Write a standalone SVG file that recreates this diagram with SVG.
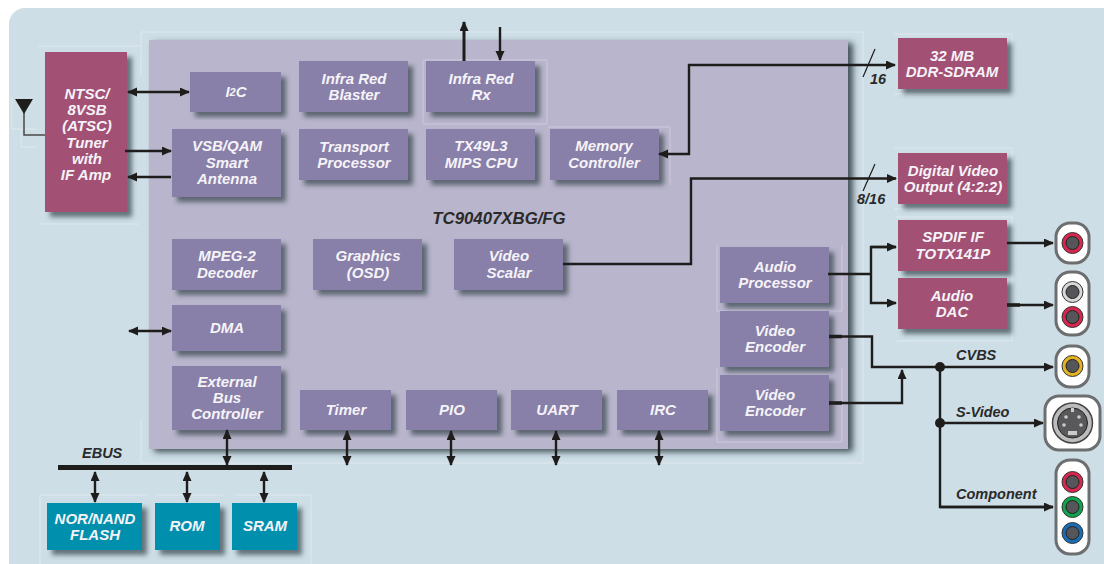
<svg xmlns="http://www.w3.org/2000/svg" width="1104" height="564" viewBox="0 0 1104 564">
<style>
text{font-family:"Liberation Sans",Arial,sans-serif;font-weight:bold;font-style:italic}
.n text{fill:#f6f3f8;font-size:15px;text-anchor:middle}
.p{fill:#8880a9;filter:url(#s)}
.m{fill:#a25175;filter:url(#s)}
.t{fill:#0090ae;filter:url(#s)}
.l{fill:#2a2a2a;font-size:14.5px}
.c path,.c line{fill:none;stroke:#1f1c1c;stroke-width:2.4}
.f{fill:none;stroke:#dfe9ee;stroke-width:1}
.g{fill:none;stroke:#cdc9dc;stroke-width:1}
.j{fill:#fff;stroke:#6d6e70;stroke-width:3}
.h{fill:#55565a;stroke:#222;stroke-width:1}
.r{stroke:#333;stroke-width:1}
</style>
<defs>
<filter id="s" x="-20%" y="-20%" width="140%" height="140%"><feDropShadow dx="5" dy="5" stdDeviation="2.5" flood-color="#34424a" flood-opacity=".7"/></filter>
<filter id="b" x="-5%" y="-5%" width="110%" height="110%"><feDropShadow dx="5" dy="3" stdDeviation="3" flood-color="#2c383f" flood-opacity=".85"/></filter>
<marker id="a" markerWidth="11" markerHeight="10" refX="9" refY="4.5" orient="auto-start-reverse" markerUnits="userSpaceOnUse"><path d="M0 0L10 4.5L0 9Z" fill="#1f1c1c"/></marker>
</defs>
<rect x="9" y="8" width="1120" height="580" rx="16" fill="#cddee6"/>
<g id="frames">
<path class="f" d="M141 75V32H863V463H141V420M38 46H139M38 224H139M12 97V129H36M21 129V147H36M894 34H1012V94H894M894 148H1012V209H894M895 217H1012V341H895M40 564V495H147M157 495H223M235 495H311V564"/>
</g>
<g id="chip"><rect x="149" y="40" width="699" height="409" fill="#b9b5cc" filter="url(#b)"/><path class="g" d="M423 60H547V124H423ZM548 127H670V185M717 245V311M842 245V311M717 368V442H842V368M717 311H842"/><text class="l" x="499" y="224" text-anchor="middle" style="font-size:16.8px">TC90407XBG/FG</text></g>
<g id="tuner" class="n"><rect class="m" x="45" y="52" width="82" height="160"/><text><tspan x="87" y="99">NTSC/</tspan><tspan x="87" y="115">8VSB</tspan><tspan x="87" y="131">(ATSC)</tspan><tspan x="87" y="148">Tuner</tspan><tspan x="87" y="164">with</tspan><tspan x="86" y="180">IF Amp</tspan></text></g>
<g id="i2c" class="n"><rect class="p" x="190" y="72" width="91" height="40"/><text x="236" y="97">I<tspan font-size="11" dy="-1">2</tspan><tspan dy="1">C</tspan></text></g>
<g id="vsb" class="n"><rect class="p" x="172" y="129" width="109" height="68"/><text><tspan x="227" y="151">VSB/QAM</tspan><tspan x="227" y="168">Smart</tspan><tspan x="227" y="184">Antenna</tspan></text></g>
<g id="irblaster" class="n"><rect class="p" x="299" y="61" width="109" height="51"/><text><tspan x="354" y="84">Infra Red</tspan><tspan x="354" y="100">Blaster</tspan></text></g>
<g id="transport" class="n"><rect class="p" x="299" y="129" width="109" height="51"/><text><tspan x="354" y="152">Transport</tspan><tspan x="354" y="168">Processor</tspan></text></g>
<g id="irrx" class="n"><rect class="p" x="426" y="61" width="109" height="51"/><text><tspan x="481" y="84">Infra Red</tspan><tspan x="481" y="100">Rx</tspan></text></g>
<g id="cpu" class="n"><rect class="p" x="426" y="129" width="109" height="51"/><text><tspan x="481" y="151">TX49L3</tspan><tspan x="481" y="168">MIPS CPU</tspan></text></g>
<g id="memctl" class="n"><rect class="p" x="550" y="129" width="109" height="51"/><text><tspan x="604" y="151">Memory</tspan><tspan x="604" y="168">Controller</tspan></text></g>
<g id="mpeg" class="n"><rect class="p" x="172" y="239" width="109" height="51"/><text><tspan x="227" y="261">MPEG-2</tspan><tspan x="227" y="278">Decoder</tspan></text></g>
<g id="osd" class="n"><rect class="p" x="313" y="239" width="109" height="51"/><text><tspan x="368" y="261">Graphics</tspan><tspan x="368" y="278">(OSD)</tspan></text></g>
<g id="scalar" class="n"><rect class="p" x="454" y="239" width="109" height="51"/><text><tspan x="509" y="261">Video</tspan><tspan x="509" y="278">Scalar</tspan></text></g>
<g id="audioproc" class="n"><rect class="p" x="720" y="247" width="109" height="56"/><text><tspan x="775" y="272">Audio</tspan><tspan x="775" y="288">Processor</tspan></text></g>
<g id="venc1" class="n"><rect class="p" x="720" y="311" width="109" height="56"/><text><tspan x="775" y="336">Video</tspan><tspan x="775" y="352">Encoder</tspan></text></g>
<g id="venc2" class="n"><rect class="p" x="720" y="375" width="109" height="56"/><text><tspan x="775" y="400">Video</tspan><tspan x="775" y="416">Encoder</tspan></text></g>
<g id="dma" class="n"><rect class="p" x="172" y="305" width="109" height="46"/><text x="227" y="333">DMA</text></g>
<g id="ebc" class="n"><rect class="p" x="172" y="366" width="109" height="64"/><text><tspan x="227" y="387">External</tspan><tspan x="227" y="403">Bus</tspan><tspan x="227" y="419">Controller</tspan></text></g>
<g id="timer" class="n"><rect class="p" x="300" y="390" width="91" height="40"/><text x="346" y="415">Timer</text></g>
<g id="pio" class="n"><rect class="p" x="406" y="390" width="91" height="40"/><text x="452" y="415">PIO</text></g>
<g id="uart" class="n"><rect class="p" x="511" y="390" width="91" height="40"/><text x="557" y="415">UART</text></g>
<g id="irc" class="n"><rect class="p" x="617" y="390" width="91" height="40"/><text x="663" y="415">IRC</text></g>
<g id="ddr" class="n"><rect class="m" x="898" y="38" width="109" height="51"/><text><tspan x="952" y="61">32 MB</tspan><tspan x="952" y="77">DDR-SDRAM</tspan></text></g>
<g id="dvo" class="n"><rect class="m" x="898" y="153" width="109" height="51"/><text><tspan x="953" y="176">Digital Video</tspan><tspan x="953" y="192">Output (4:2:2)</tspan></text></g>
<g id="spdif" class="n"><rect class="m" x="898" y="220" width="109" height="51"/><text><tspan x="953" y="242">SPDIF IF</tspan><tspan x="953" y="259">TOTX141P</tspan></text></g>
<g id="dac" class="n"><rect class="m" x="898" y="278" width="109" height="51"/><text><tspan x="952" y="301">Audio</tspan><tspan x="952" y="317">DAC</tspan></text></g>
<g id="flash" class="n"><rect class="t" x="47" y="503" width="95" height="47"/><text><tspan x="95" y="524">NOR/NAND</tspan><tspan x="95" y="540">FLASH</tspan></text></g>
<g id="rom" class="n"><rect class="t" x="155" y="503" width="65" height="47"/><text x="187" y="531">ROM</text></g>
<g id="sram" class="n"><rect class="t" x="232" y="503" width="65" height="47"/><text x="265" y="531">SRAM</text></g>
<g id="connectors" class="c">
<path d="M128 92H189" marker-start="url(#a)" marker-end="url(#a)"/>
<path d="M125 151H171" marker-end="url(#a)"/>
<path d="M171 177H128" marker-end="url(#a)"/>
<path d="M45 135H24V112" style="stroke-width:1.5;stroke:#4a4a4a"/>
<path d="M464 61V22" marker-end="url(#a)" style="stroke-width:3"/>
<path d="M500 27V60" marker-end="url(#a)"/>
<path d="M659 154H689V65H895" marker-end="url(#a)" marker-start="url(#a)"/>
<path d="M563 264H691V178.500H896" marker-end="url(#a)"/>
<line x1="863" y1="77" x2="875" y2="49" style="stroke-width:1.200"/>
<line x1="863" y1="191" x2="875" y2="164" style="stroke-width:1.200"/>
<path d="M828 274H871"/>
<path d="M896 247H871V303H896" marker-end="url(#a)"/>
<path d="M871 247H896" marker-end="url(#a)"/>
<path d="M829 336.500H872V367H1053" marker-end="url(#a)"/>
<path d="M829 336.500H842" style="stroke-width:3.500"/>
<path d="M829 403H902V370" marker-end="url(#a)"/>
<path d="M829 403H842" style="stroke-width:3.500"/>
<path d="M940 367V507H1053" />
<path d="M940 423H1043" marker-end="url(#a)"/>
<path d="M940 507H1053" marker-end="url(#a)"/>
<path d="M1007 243H1053" marker-end="url(#a)"/>
<path d="M1007 305H1053" marker-end="url(#a)"/>
<path d="M1007 305H1020" style="stroke-width:3.500"/>
<path d="M58 467.500H292" style="stroke-width:5"/>
<path d="M227 430V465" marker-start="url(#a)" marker-end="url(#a)"/>
<path d="M95 472V502" marker-start="url(#a)" marker-end="url(#a)"/>
<path d="M187 472V502" marker-start="url(#a)" marker-end="url(#a)"/>
<path d="M264 472V502" marker-start="url(#a)" marker-end="url(#a)"/>
<path d="M347 431V465" marker-start="url(#a)" marker-end="url(#a)"/>
<path d="M451 431V465" marker-start="url(#a)" marker-end="url(#a)"/>
<path d="M556 431V465" marker-start="url(#a)" marker-end="url(#a)"/>
<path d="M659 431V465" marker-start="url(#a)" marker-end="url(#a)"/>
<path d="M129 331H171" marker-start="url(#a)" marker-end="url(#a)"/>
<circle cx="940" cy="367" r="5" fill="#1f1c1c"/>
<circle cx="940" cy="423" r="5" fill="#1f1c1c"/>
</g>
<g id="labels">
<text class="l" x="82" y="458">EBUS</text>
<text class="l" x="870" y="84">16</text>
<text class="l" x="857" y="204">8/16</text>
<text class="l" x="956" y="360">CVBS</text>
<text class="l" x="956" y="417">S-Video</text>
<text class="l" x="956" y="499">Component</text>
</g>
<g id="antenna"><path d="M15 99H33L24 114Z" fill="#1f1c1c"/></g>
<g id="spdif-jack"><rect class="j" x="1056" y="223" width="33" height="40" rx="14"/><circle class="r" cx="1072.500" cy="243" r="10.500" fill="#d8274f"/><circle class="h" cx="1072.500" cy="243" r="6.500"/></g>
<g id="audio-jack"><rect class="j" x="1056" y="272" width="33" height="63" rx="14"/><circle class="r" cx="1072.500" cy="292" r="10.500" fill="#d8d8d8"/><circle class="h" cx="1072.500" cy="292" r="6.500"/><circle class="r" cx="1072.500" cy="317" r="10.500" fill="#d8274f"/><circle class="h" cx="1072.500" cy="317" r="6.500"/></g>
<g id="cvbs-jack"><rect class="j" x="1056" y="346" width="33" height="41" rx="14"/><circle class="r" cx="1072.500" cy="366" r="10.500" fill="#e3b323"/><circle class="h" cx="1072.500" cy="366" r="6.500"/></g>
<g id="svideo-jack"><rect class="j" x="1045" y="396" width="55" height="54" rx="14"/><circle cx="1072.500" cy="423" r="20" fill="#bcbcbc" stroke="#444" stroke-width="1.500"/><circle cx="1072.500" cy="423" r="15" fill="#59595c" stroke="#222"/><g fill="#ccc"><circle cx="1066" cy="417" r="1.800"/><circle cx="1079" cy="417" r="1.800"/><circle cx="1064" cy="425" r="1.800"/><circle cx="1081" cy="425" r="1.800"/><rect x="1068" y="431" width="9" height="4"/><rect x="1071" y="408" width="3" height="4"/></g></g>
<g id="component-jack"><rect class="j" x="1056" y="460" width="33" height="94" rx="14"/><circle class="r" cx="1072.500" cy="482" r="10.500" fill="#d8274f"/><circle class="h" cx="1072.500" cy="482" r="6.500"/><circle class="r" cx="1072.500" cy="507" r="10.500" fill="#0fa54e"/><circle class="h" cx="1072.500" cy="507" r="6.500"/><circle class="r" cx="1072.500" cy="533" r="10.500" fill="#1a6db5"/><circle class="h" cx="1072.500" cy="533" r="6.500"/></g>
</svg>
